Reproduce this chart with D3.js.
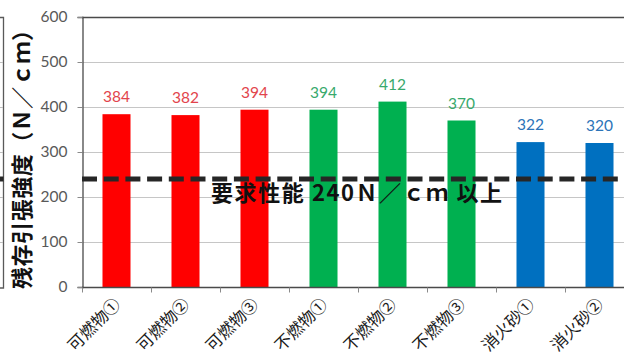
<!DOCTYPE html>
<html>
<head>
<meta charset="utf-8">
<script src="https://cdn.jsdelivr.net/npm/d3@7"></script>
<style>
  html, body { margin: 0; padding: 0; background: #fff; }
  svg { display: block; }
</style>
</head>
<body>
<svg id="chart" width="624" height="357"></svg>
<script>
// Residual tensile strength per test condition
const categories = ["可燃物①", "可燃物②", "可燃物③", "不燃物①", "不燃物②", "不燃物③", "消火砂①", "消火砂②"];
const values = [384, 382, 394, 394, 412, 370, 322, 320];
const groups = ["可燃物", "可燃物", "可燃物", "不燃物", "不燃物", "不燃物", "消火砂", "消火砂"];
const yTicks = [0, 100, 200, 300, 400, 500, 600];
const requirement = 240;
const yTitle = "残存引張強度（Ｎ／ｃｍ）";
const requirementText = "要求性能 240Ｎ／ｃｍ 以上";

const barColor = { "可燃物": "#ff0000", "不燃物": "#00b050", "消火砂": "#0070c0" };
const labelColor = { "可燃物": "#e2444c", "不燃物": "#38a96c", "消火砂": "#2c74b8" };

const svg = d3.select("#chart");
const W = 624, H = 357;
const plotLeft = 82, plotTop = 17, plotBottom = 287;
const step = 69;

const x = d3.scaleBand()
  .domain(categories)
  .range([plotLeft, plotLeft + step * categories.length])
  .paddingInner(0.594)
  .paddingOuter(0.297);

const y = d3.scaleLinear().domain([0, 600]).range([plotBottom, plotTop]);

const latin = "Lato, 'Open Sans', sans-serif";
const cjk = "'Noto Sans CJK JP', 'Noto Sans', sans-serif";

// neighbouring frame edge at the far left
const frame = svg.append("g").attr("stroke", "#595959").attr("fill", "none");
frame.append("path").attr("d", `M0,${plotTop + 0.5}H3.5V${plotBottom + 1}H0`).attr("stroke-width", 1.3);
yTicks.filter(t => t > 0 && t < 600).forEach(t => {
  frame.append("line").attr("x1", 0).attr("x2", 3).attr("y1", Math.round(y(t)) + 0.5).attr("y2", Math.round(y(t)) + 0.5)
    .attr("stroke", "#bfbfbf");
});

// gridlines
svg.append("g")
  .selectAll("line")
  .data(yTicks.filter(t => t > 0 && t < 600))
  .join("line")
  .attr("x1", plotLeft).attr("x2", W)
  .attr("y1", d => Math.round(y(d)) + 0.5).attr("y2", d => Math.round(y(d)) + 0.5)
  .attr("stroke", "#c6c6c6").attr("stroke-width", 1);

// top border
svg.append("line")
  .attr("x1", plotLeft).attr("x2", W)
  .attr("y1", y(600) + 0.5).attr("y2", y(600) + 0.5)
  .attr("stroke", "#4a4a4a").attr("stroke-width", 1.6);

// bars
svg.append("g")
  .selectAll("rect")
  .data(categories)
  .join("rect")
  .attr("x", d => x(d))
  .attr("width", x.bandwidth())
  .attr("y", (d, i) => y(values[i]))
  .attr("height", (d, i) => y(0) - y(values[i]))
  .attr("fill", (d, i) => barColor[groups[i]]);

// value labels
svg.append("g")
  .selectAll("text")
  .data(categories)
  .join("text")
  .attr("x", d => x(d) + x.bandwidth() / 2)
  .attr("y", (d, i) => y(values[i]) - 12)
  .attr("text-anchor", "middle")
  .attr("font-family", latin)
  .attr("font-size", 15.5)
  .attr("fill", (d, i) => labelColor[groups[i]])
  .text((d, i) => values[i]);

// y axis
const yAxis = svg.append("g")
  .attr("transform", `translate(${plotLeft + 0.5},0)`)
  .call(d3.axisLeft(y).tickValues(yTicks).tickSize(5).tickPadding(10));
yAxis.select(".domain").attr("stroke", "#4a4a4a").attr("stroke-width", 1.3);
yAxis.selectAll(".tick line").attr("stroke", "#8a8a8a");
yAxis.selectAll(".tick text")
  .attr("font-family", latin).attr("font-size", 15.5).attr("fill", "#595959");

// x axis: ticks at category boundaries
const xAxisG = svg.append("g").attr("transform", `translate(0,${plotBottom + 0.5})`);
xAxisG.append("line").attr("x1", plotLeft).attr("x2", W).attr("stroke", "#4a4a4a").attr("stroke-width", 1.3);
xAxisG.selectAll("line.tk")
  .data(d3.range(categories.length + 1))
  .join("line")
  .attr("class", "tk")
  .attr("x1", i => plotLeft + 0.5 + i * x.step()).attr("x2", i => plotLeft + 0.5 + i * x.step())
  .attr("y1", 0).attr("y2", 5)
  .attr("stroke", "#8a8a8a");
xAxisG.selectAll("text")
  .data(categories)
  .join("text")
  .attr("transform", d => `translate(${x(d) + x.bandwidth() / 2 + 5},${18}) rotate(-45)`)
  .attr("text-anchor", "end")
  .attr("font-family", cjk)
  .attr("font-size", 16.5)
  .attr("fill", "#1a1a1a")
  .text(d => d);

// requirement threshold
svg.append("line")
  .attr("x1", plotLeft).attr("x2", W)
  .attr("y1", y(requirement)).attr("y2", y(requirement))
  .attr("stroke", "#262626").attr("stroke-width", 5)
  .attr("stroke-dasharray", "15,6.7");
svg.append("line")
  .attr("x1", 0).attr("x2", 3.5)
  .attr("y1", y(requirement)).attr("y2", y(requirement))
  .attr("stroke", "#262626").attr("stroke-width", 5);

svg.append("text")
  .attr("x", 211)
  .attr("y", y(requirement) + 22)
  .attr("font-family", cjk)
  .attr("font-weight", 700)
  .attr("font-size", 22)
  .attr("fill", "#111")
  .attr("textLength", 291)
  .attr("lengthAdjust", "spacing")
  .text(requirementText);

// y title
svg.append("text")
  .attr("transform", `translate(30,${(18 + 290) / 2}) rotate(-90)`)
  .attr("text-anchor", "middle")
  .attr("font-family", cjk)
  .attr("font-weight", 700)
  .attr("font-size", 22)
  .attr("fill", "#111")
  .attr("textLength", 270)
  .attr("lengthAdjust", "spacing")
  .text(yTitle);
</script>
</body>
</html>
